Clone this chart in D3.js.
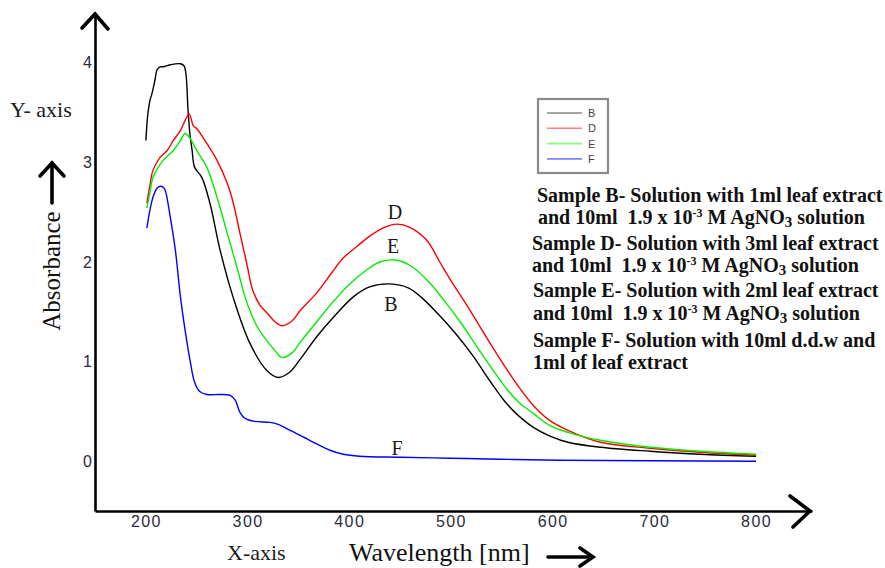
<!DOCTYPE html>
<html>
<head>
<meta charset="utf-8">
<script src="https://cdn.jsdelivr.net/npm/d3@7/dist/d3.min.js"></script>
<style>
  html, body { margin: 0; padding: 0; background: #fff; }
  svg { display: block; }
  text { white-space: pre; }
</style>
</head>
<body>
<svg id="chart" width="885" height="568"></svg>
<script>
// ---- DATA (wavelength nm, absorbance) ----
const sampleB = [[200,3.22],[202,3.49],[204,3.62],[206,3.69],[209,3.83],[211,3.93],[214,3.96],[217,3.96],[224,3.98],[234,3.99],[237.5,3.97],[239.5,3.88],[241.5,3.52],[243.5,3.27],[245.5,3.12],[248,2.95],[255,2.85],[263,2.59],[273,2.12],[286,1.64],[302,1.19],[319,0.91],[330,0.84],[341,0.89],[351.5,1.02],[368,1.25],[384,1.44],[404,1.65],[420,1.75],[440,1.78],[458,1.74],[472.5,1.63],[489,1.46],[505.5,1.27],[521.5,1.06],[538,0.81],[553,0.60],[565,0.47],[581,0.34],[598,0.25],[615,0.19],[647,0.14],[696,0.10],[745,0.07],[800,0.05]];
const sampleD = [[201,2.59],[204,2.77],[207,2.92],[214,3.05],[221,3.12],[227,3.22],[234,3.32],[238.5,3.42],[242.5,3.49],[244.5,3.44],[246.5,3.37],[250,3.34],[260,3.19],[270,3.02],[280,2.79],[286,2.59],[292.5,2.29],[299.5,1.97],[305,1.72],[312,1.57],[319,1.49],[327,1.40],[334,1.36],[344,1.41],[351.5,1.51],[368,1.69],[384,1.91],[394,2.04],[408,2.16],[417.5,2.24],[433,2.34],[447,2.38],[459,2.35],[476,2.22],[489,2.00],[502,1.78],[516,1.56],[531.5,1.30],[548,1.03],[565,0.77],[581,0.56],[597,0.41],[615,0.31],[647,0.19],[696,0.13],[745,0.09],[800,0.06]];
const sampleE = [[201,2.54],[204,2.70],[207,2.85],[212,2.95],[217,3.02],[227,3.12],[234,3.22],[238.5,3.29],[243.5,3.24],[250,3.12],[260,2.95],[270,2.65],[280,2.29],[289.5,1.95],[297.5,1.65],[302,1.52],[310,1.34],[319,1.21],[327,1.11],[334,1.04],[344,1.09],[351.5,1.19],[368,1.40],[384,1.60],[400.5,1.78],[417,1.92],[430,2.00],[445,2.02],[459,1.97],[476.5,1.82],[492,1.63],[509,1.40],[525.5,1.15],[541,0.92],[556,0.71],[568,0.58],[581,0.48],[597,0.36],[615,0.29],[647,0.21],[696,0.14],[745,0.10],[800,0.07]];
const sampleF = [[201,2.34],[204,2.52],[207,2.65],[211,2.74],[214,2.76],[217,2.75],[219,2.72],[224,2.45],[229,2.12],[234,1.65],[238.5,1.32],[243.5,1.01],[248,0.79],[253,0.70],[260,0.67],[273,0.67],[283,0.66],[288,0.61],[292.5,0.49],[297.5,0.43],[307,0.40],[322,0.39],[330,0.37],[342,0.31],[361,0.21],[381,0.11],[394,0.07],[410,0.05],[450,0.04],[499,0.03],[548,0.02],[607,0.01],[800,0.00]];

const seriesNames  = ["B", "D", "E", "F"];
const seriesColors = ["#000000", "#ff0000", "#00ee00", "#0000ff"];
const legendColors = ["#888888", "#ff8080", "#80ff80", "#8080ff"];
const xTicks = [200, 300, 400, 500, 600, 700, 800];
const yTicks = [0, 1, 2, 3, 4];
const curveLabels = [["D", 445, 2.43], ["E", 443, 2.09], ["B", 441, 1.51], ["F", 447, 0.06]];
const notes = [
  [["Sample B- Solution with 1ml leaf extract"]],
  [["and 10ml  1.9 x 10"], ["-3", "sup"], [" M AgNO"], ["3", "sub"], [" solution"]],
  [["Sample D- Solution with 3ml leaf extract"]],
  [["and 10ml  1.9 x 10"], ["-3", "sup"], [" M AgNO"], ["3", "sub"], [" solution"]],
  [["Sample E- Solution with 2ml leaf extract"]],
  [["and 10ml  1.9 x 10"], ["-3", "sup"], [" M AgNO"], ["3", "sub"], [" solution"]],
  [["Sample F- Solution with 10ml d.d.w and"]],
  [["1ml of leaf extract"]]
];

// ---- LAYOUT ----
const svg = d3.select("#chart");
const x = d3.scaleLinear().domain([150, 855]).range([95, 812]);
const y = d3.scaleLinear().domain([-0.5, 4.5]).range([511, 13]);
const serif = "'Liberation Serif', 'Times New Roman', serif";
const sans = "'Liberation Sans', Arial, sans-serif";

// axes (domain lines only, no tick marks)
const xAxis = svg.append("g").attr("transform", `translate(0,${y(-0.5)})`)
  .call(d3.axisBottom(x).tickValues(xTicks).tickSize(0).tickSizeOuter(0).tickPadding(5));
const yAxis = svg.append("g").attr("transform", `translate(${x(150)},0)`)
  .call(d3.axisLeft(y).tickValues(yTicks).tickSize(0).tickSizeOuter(0).tickPadding(3).tickFormat(d3.format("d")));
[xAxis, yAxis].forEach(g => {
  g.select(".domain").attr("stroke", "#000").attr("stroke-width", 2.6);
  g.selectAll("text").attr("fill", "#2b2b3b").style("font-family", sans).style("font-size", "16px");
});
xAxis.selectAll("text").style("letter-spacing", "1.4px");

// arrow heads on axes
const arrow = (pts) => svg.append("polyline").attr("points", pts.map(p => p.join(",")).join(" "))
  .attr("fill", "none").attr("stroke", "#000").attr("stroke-width", 3.6)
  .attr("stroke-linecap", "round").attr("stroke-linejoin", "miter");
arrow([[82, 28], [95, 14], [108, 29]]);
arrow([[790, 496], [810, 511], [793, 527]]);

// curves
const line = d3.line().x(d => x(d[0])).y(d => y(d[1])).curve(d3.curveCatmullRom.alpha(0.5));
[sampleB, sampleD, sampleE, sampleF].forEach((data, i) => {
  svg.append("path").datum(data).attr("d", line)
    .attr("fill", "none").attr("stroke", seriesColors[i]).attr("stroke-width", 1.4);
});

// curve labels
curveLabels.forEach(([t, wl, a]) => {
  svg.append("text").attr("x", x(wl)).attr("y", y(a)).attr("text-anchor", "middle")
    .style("font-family", serif).style("font-size", "20px").attr("fill", "#1a1a1a").text(t);
});

// legend
const lg = svg.append("g");
lg.append("rect").attr("x", 538).attr("y", 99).attr("width", 70).attr("height", 74)
  .attr("fill", "#fff").attr("stroke", "#8a8a8a").attr("stroke-width", 2.2);
seriesNames.forEach((n, i) => {
  const yy = 113 + i * 15.3;
  lg.append("line").attr("x1", 547).attr("x2", 582).attr("y1", yy).attr("y2", yy)
    .attr("stroke", legendColors[i]).attr("stroke-width", 1.6);
  lg.append("text").attr("x", 588).attr("y", yy + 4).style("font-family", sans)
    .style("font-size", "11px").attr("fill", "#444").text(n);
});

// notes block
const noteX = [537, 538, 532, 532, 533, 533, 533, 533];
const noteY = [202, 224, 250, 272, 297, 320, 347, 369];
notes.forEach((parts, i) => {
  const t = svg.append("text").attr("x", noteX[i]).attr("y", noteY[i])
    .style("font-family", serif).style("font-size", "20px").style("font-weight", "bold").attr("fill", "#111");
  let prev = null;
  parts.forEach(([s, kind]) => {
    const ts = t.append("tspan").text(s);
    let dy = 0;
    if (prev === "sup") dy += 7;
    if (prev === "sub") dy -= 3;
    if (kind === "sup") { ts.style("font-size", "12px"); dy -= 7; }
    if (kind === "sub") { ts.style("font-size", "15px"); dy += 3; }
    if (dy !== 0) ts.attr("dy", dy);
    prev = kind || null;
  });
});

// axis titles
svg.append("text").attr("x", 10).attr("y", 117).style("font-family", serif).style("font-size", "22px")
  .attr("fill", "#1a1a1a").text("Y- axis");
svg.append("text").attr("transform", "translate(60,271) rotate(-90)").attr("text-anchor", "middle")
  .style("font-family", serif).style("font-size", "25px").attr("fill", "#111").text("Absorbance");
arrow([[52, 203], [52, 163]]);
arrow([[40, 176], [52, 163], [64, 176]]);

svg.append("text").attr("x", 227).attr("y", 560).style("font-family", serif).style("font-size", "22px")
  .attr("fill", "#1a1a1a").text("X-axis");
svg.append("text").attr("x", 349).attr("y", 561).style("font-family", serif).style("font-size", "26px")
  .attr("fill", "#111").text("Wavelength [nm]");
arrow([[548, 557], [592, 557]]);
arrow([[580, 548], [593, 557], [580, 566]]);
</script>
</body>
</html>
